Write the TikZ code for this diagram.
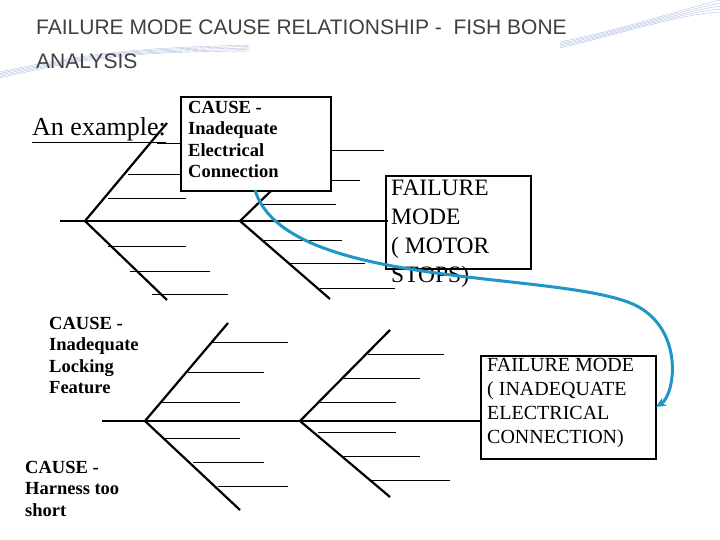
\documentclass[tikz,border=0pt]{standalone}
\usepackage{fontspec}
\setmainfont{Liberation Serif}
\newfontfamily\ttl{Liberation Sans}
\usetikzlibrary{arrows.meta}
\begin{document}
\begin{tikzpicture}[x=1pt,y=-1pt,
 bone/.style={line width=2.2pt},
 rib/.style={line width=0.7pt},
 box/.style={draw,line width=2pt,inner sep=0pt},
 cause/.style={font=\fontsize{18.5}{21.5}\selectfont\bfseries,align=left,anchor=north west,inner sep=0pt}]
\useasboundingbox (0,0) rectangle (720,540);
\fill[white] (0,0) rectangle (720,540);
% decorative lines
\foreach \i in {0,...,4}{\draw[cyan!40!blue!30,line width=0.4pt] (0,72+\i*1.5) .. controls (100,50+\i) and (150,48+\i) .. (250,45+\i*1.5);
\draw[cyan!40!blue!30,line width=0.4pt] (560,42+\i*1.5) .. controls (620,30+\i) and (680,10+\i) .. (720,\i*3);}
\node[font=\ttl\fontsize{21}{34}\selectfont,text=black!75,anchor=north west,align=left,inner sep=0pt] (title) at (36,20) {FAILURE MODE CAUSE RELATIONSHIP -\ \ FISH BONE\\ANALYSIS};
\node[font=\fontsize{26}{30}\selectfont,anchor=west,inner sep=0pt] (ex) at (32,130) {\underline{An example:}};
% top fishbone
\coordinate (s1) at (60,221); \coordinate (h1) at (85,221); \coordinate (h2) at (240,221);
\coordinate (u1) at (167,123); \coordinate (l1) at (167,300);
\coordinate (u2) at (272,190); \coordinate (l2) at (330,299);
\draw[bone] (s1) -- (388,221);
\draw[bone] (u1) -- (h1) -- (l1);
\draw[bone] (u2) -- (h2) -- (l2);
\foreach \y/\a/\b in {143/157/182,174/128/182,198/108/186,246/108/186,271/130/210,294/152/228,150/330/384,180/330/360,204/262/336,240/262/342,263/290/365,288/320/395}
 \draw[rib] (\a,\y) -- (\b,\y);
\node[box,fill=white,minimum width=150pt,minimum height=94pt,anchor=north west] (c1) at (180,96) {};
\node[cause] (c1t) at (188,101) {CAUSE -\\Inadequate\\Electrical\\Connection};
\node[box,minimum width=145pt,minimum height=93pt,anchor=north west] (f1) at (385,175) {};
\node[font=\fontsize{23.5}{29}\selectfont,anchor=north west,align=left,inner sep=0pt] (f1t) at (391,180) {FAILURE\\MODE\\( MOTOR\\STOPS)};
% bottom fishbone
\coordinate (s2) at (102,421); \coordinate (g1) at (145,421); \coordinate (g2) at (300,421);
\draw[bone] (s2) -- (480,421);
\draw[bone] (228,323) -- (g1) -- (240,510);
\draw[bone] (390,330) -- (g2) -- (390,497);
\foreach \y/\a/\b in {342/213/288,372/188/264,402/160/240,438/165/240,462/193/264,486/218/288,354/368/444,378/343/420,402/318/396,432/318/396,456/343/420,480/372/450}
 \draw[rib] (\a,\y) -- (\b,\y);
\node[cause] (c2) at (49,317) {CAUSE -\\Inadequate\\Locking\\Feature};
\node[cause] (c3) at (25,461) {CAUSE -\\Harness too\\short};
\node[box,line width=1.6pt,minimum width=175pt,minimum height=103pt,anchor=north west] (f2) at (480,355) {};
\node[font=\fontsize{20}{24}\selectfont,anchor=north west,align=left,inner sep=0pt] (f2t) at (487,358) {FAILURE MODE\\( INADEQUATE\\ELECTRICAL\\CONNECTION)};
% connector
\coordinate (arr) at (656,407);
\draw[line width=3pt,color={rgb,255:red,30;green,150;blue,200},-{Stealth[length=10pt,width=9pt]}] (255,190) .. controls (285,290) and (560,270) .. (635,305) .. controls (685,330) and (675,395) .. (arr);
\end{tikzpicture}
\end{document}
